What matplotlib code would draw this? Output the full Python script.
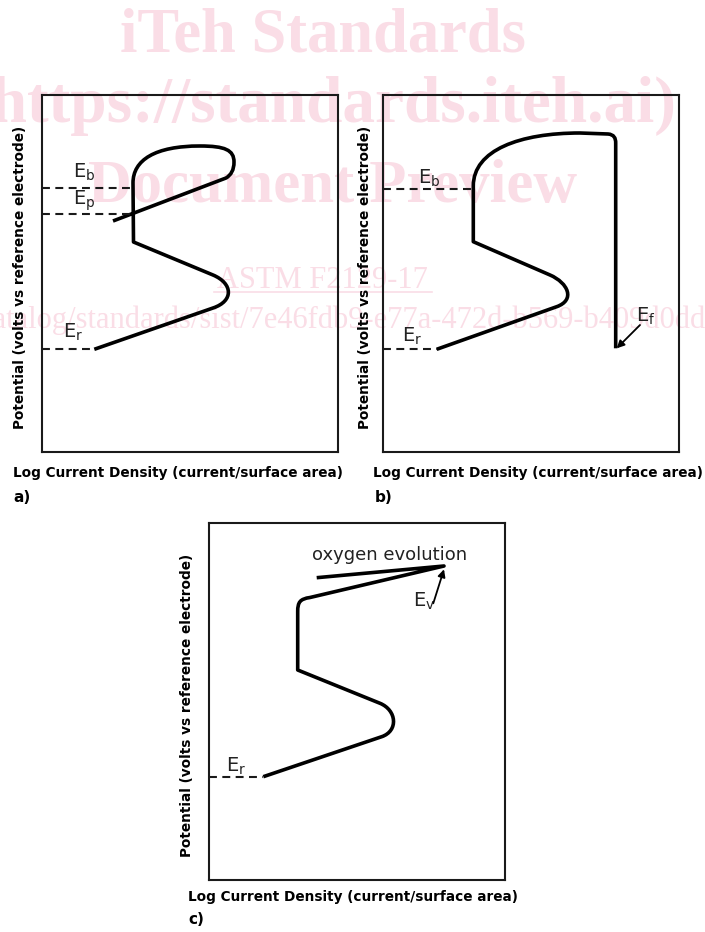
import matplotlib
matplotlib.use("Agg")
import matplotlib.pyplot as plt
from matplotlib.path import Path
from matplotlib.patches import PathPatch

# ---------------- data (schematic, arbitrary units: log current vs potential) -------------
x_label = "Log Current Density (current/surface area)"
y_label = "Potential (volts vs reference electrode)"
panel_tags = ["a)", "b)", "c)"]

# polarization curve a) : kind (M=move, L=line, C=cubic bezier point), x, y
curve_a_kind = ['M', 'L', 'C', 'C', 'C', 'L', 'L', 'C', 'C', 'C', 'C', 'C', 'C', 'C', 'C', 'C', 'L']
curve_a_x = [52.3, 171, 192, 191, 171, 91.5, 91, 91, 113, 158, 183, 192, 192, 192, 189, 184, 71]
curve_a_y = [102.7, 144, 151, 168.6, 177, 210, 269, 292, 306, 306, 306, 302, 290, 282, 277, 274, 231]

curve_b_kind = ['M', 'L', 'C', 'C', 'C', 'L', 'L', 'C', 'C', 'C', 'L', 'C', 'C', 'C', 'L']
curve_b_x = [53.7, 173.7, 192.5, 185.3, 167, 90.3, 90.3, 90.3, 137, 197, 225, 231, 232.7, 232.7, 232.7]
curve_b_y = [102.7, 145.3, 152, 169, 177, 210.3, 266, 302, 319, 319, 318, 317.5, 314, 309, 103.7]

curve_c_kind = ['M', 'L', 'C', 'C', 'C', 'L', 'L', 'C', 'C', 'C', 'L', 'L']
curve_c_x = [54.3, 172.7, 189.7, 187.7, 171, 88.7, 88.7, 88.7, 91, 101, 235, 107.7]
curve_c_y = [103.3, 143.3, 149.1, 169.9, 176.7, 210, 268.3, 278, 281, 282.5, 314, 302.3]

# characteristic potentials (dashed reference lines): name, potential, end current
pot_a_names = ["E_r", "E_b", "E_p"]
pot_a_values = [102.7, 264.3, 238]
pot_a_ends = [52.3, 91, 91]

pot_b_names = ["E_r", "E_b"]
pot_b_values = [102.7, 262.7]
pot_b_ends = [53.7, 90.3]

pot_c_names = ["E_r"]
pot_c_values = [103.3]
pot_c_ends = [54.3]

# label text + anchor
lab_a_text = [r"$\mathregular{E_b}$", r"$\mathregular{E_p}$", r"$\mathregular{E_r}$"]
lab_a_x = [30.7, 30.7, 20.7]
lab_a_y = [274.7, 247, 114]

lab_b_text = [r"$\mathregular{E_b}$", r"$\mathregular{E_r}$", r"$\mathregular{E_f}$"]
lab_b_x = [35.3, 18.7, 253]
lab_b_y = [268.7, 110.3, 130.3]

lab_c_text = [r"$\mathregular{E_r}$", r"$\mathregular{E_v}$", "oxygen evolution"]
lab_c_x = [17, 204.3, 180.5]
lab_c_y = [108.3, 273.3, 320]

# arrows (tail -> head)
arrow_b = [(257, 127), (233.7, 103.7)]
arrow_c = [(224.3, 276.7), (235, 310.7)]

XMAX, YMAX = 296, 357

watermark_lines = ["iTeh Standards", "(https://standards.iteh.ai)", "Document Preview",
                   "ASTM F2129-17",
                   "catalog/standards/sist/7e46fdb9-e77a-472d-b569-b409d0dd"]

# ---------------- figure ----------------
W, H = 705, 932
fig = plt.figure(figsize=(W / 100, H / 100), dpi=100)

def fx(px):
    return px / W

def fy(py):
    return 1 - py / H

wm_color = "#fadde6"
fig.text(fx(323), fy(52), watermark_lines[0], family="Liberation Serif", weight="bold",
         fontsize=45, color=wm_color, ha="center", va="baseline", zorder=-5)
fig.text(fx(323), fy(122), watermark_lines[1], family="Liberation Serif", weight="bold",
         fontsize=47, color=wm_color, ha="center", va="baseline", zorder=-5)
fig.text(fx(333), fy(202), watermark_lines[2], family="Liberation Serif", weight="bold",
         fontsize=43.7, color=wm_color, ha="center", va="baseline", zorder=-5)
fig.text(fx(322), fy(288), watermark_lines[3], family="Liberation Serif",
         fontsize=22, color=wm_color, ha="center", va="baseline", zorder=-5)
fig.add_artist(plt.Line2D([fx(214), fx(432)], [fy(292), fy(292)], color=wm_color, lw=1.2, zorder=-5))
fig.text(fx(-20), fy(328), watermark_lines[4], family="Liberation Serif",
         fontsize=22, color=wm_color, ha="left", va="baseline", zorder=-5)

panels = [
    dict(rect=(42, 95), kind=curve_a_kind, x=curve_a_x, y=curve_a_y,
         pv=pot_a_values, pe=pot_a_ends, lt=lab_a_text, lx=lab_a_x, ly=lab_a_y,
         arrow=None, xl=(13, 473), yl=20, tag=(13, 498)),
    dict(rect=(383, 95), kind=curve_b_kind, x=curve_b_x, y=curve_b_y,
         pv=pot_b_values, pe=pot_b_ends, lt=lab_b_text, lx=lab_b_x, ly=lab_b_y,
         arrow=arrow_b, xl=(373, 473), yl=365, tag=(375, 498)),
    dict(rect=(209, 523), kind=curve_c_kind, x=curve_c_x, y=curve_c_y,
         pv=pot_c_values, pe=pot_c_ends, lt=lab_c_text, lx=lab_c_x, ly=lab_c_y,
         arrow=arrow_c, xl=(188, 897), yl=186.7, tag=(188, 920)),
]

code_map = {'M': Path.MOVETO, 'L': Path.LINETO, 'C': Path.CURVE4}
lab_font = 9.8

for i, p in enumerate(panels):
    left, top = p["rect"]
    ax = fig.add_axes([fx(left), fy(top + YMAX), XMAX / W, YMAX / H])
    ax.set_facecolor("none")
    ax.set_xlim(0, XMAX)
    ax.set_ylim(0, YMAX)
    ax.set_xticks([])
    ax.set_yticks([])
    for s in ax.spines.values():
        s.set_linewidth(1.5)
        s.set_color("#1a1a1a")

    verts = list(zip(p["x"], p["y"]))
    codes = [code_map[k] for k in p["kind"]]
    ax.add_patch(PathPatch(Path(verts, codes), fill=False, lw=2.6, color="black",
                           capstyle="butt", joinstyle="round"))

    for v, e in zip(p["pv"], p["pe"]):
        ax.plot([0, e], [v, v], color="#1a1a1a", lw=1.5, ls=(0, (3.8, 2.6)))

    for txt, x, y in zip(p["lt"], p["lx"], p["ly"]):
        if txt.startswith("$"):
            ax.text(x, y, txt, fontsize=14, ha="left", va="baseline", color="#222222")
        else:
            ax.text(x, y, txt, fontsize=13, ha="center", va="baseline", color="#222222")

    if p["arrow"] is not None:
        (tx, ty), (hx, hy) = p["arrow"]
        ax.annotate("", xy=(hx, hy), xytext=(tx, ty),
                    arrowprops=dict(arrowstyle="-|>", lw=1.3, color="black",
                                    mutation_scale=11, shrinkA=0, shrinkB=0))

    xlx, xly = p["xl"]
    ax.set_xlabel(x_label, fontsize=lab_font, weight="bold", ha="left", va="center")
    ax.xaxis.set_label_coords((xlx - left) / XMAX, (top + YMAX - xly) / YMAX)
    ax.set_ylabel(y_label, fontsize=lab_font, weight="bold", ha="center", va="center")
    ax.yaxis.set_label_coords((p["yl"] - left) / XMAX, 0.49)
    tgx, tgy = p["tag"]
    ax.text((tgx - left) / XMAX, (top + YMAX - tgy) / YMAX, panel_tags[i],
            transform=ax.transAxes, fontsize=11, weight="bold", ha="left", va="center")

fig.savefig("out.png", dpi=100)
